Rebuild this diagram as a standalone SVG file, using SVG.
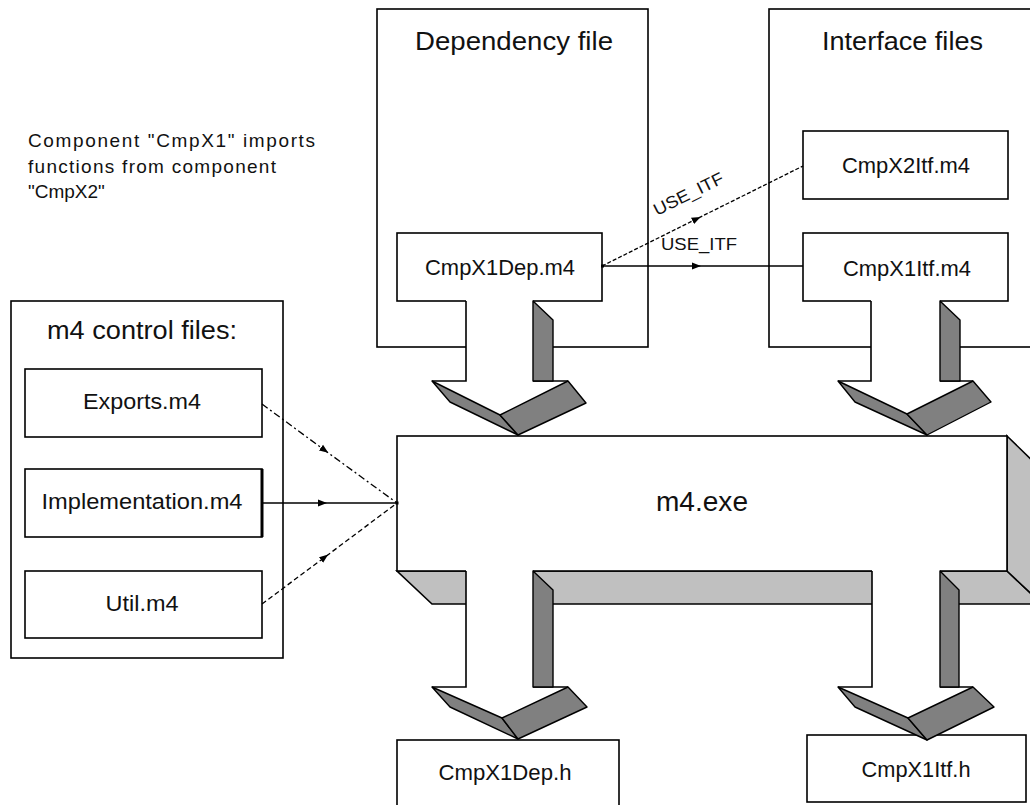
<svg xmlns="http://www.w3.org/2000/svg" width="1030" height="805" viewBox="0 0 1030 805">
  <style>
    text { font-family: "Liberation Sans", Arial, sans-serif; fill: #111; }
    .box { fill: #fff; stroke: #000; stroke-width: 1.6; }
    .title { font-size: 26px; }
    .label { font-size: 22px; text-anchor: middle; }
    .note { font-size: 19px; }
    .edge-label { font-size: 17px; }
    .dark { fill: #808080; stroke: #000; stroke-width: 1.4; stroke-linejoin: round; }
    .light { fill: #c0c0c0; stroke: #000; stroke-width: 1.6; }
    .white { fill: #fff; stroke: none; }
    .outline { fill: none; stroke: #000; stroke-width: 1.6; }
    .wire { fill: none; stroke: #000; stroke-width: 1.3; marker-mid: url(#tri); }
  </style>
  <defs>
    <marker id="tri" markerWidth="10" markerHeight="8" refX="5" refY="4" orient="auto" markerUnits="userSpaceOnUse">
      <path d="M0,0.5 L9,4 L0,7.5 z" fill="#000"/>
    </marker>
  </defs>

  <rect width="1030" height="805" fill="#fff"/>

  <!-- explanatory note -->
  <g id="note">
    <text class="note" x="28" y="147" textLength="287" lengthAdjust="spacing">Component "CmpX1" imports</text>
    <text class="note" x="28" y="173" textLength="248" lengthAdjust="spacing">functions from component</text>
    <text class="note" x="28" y="198">"CmpX2"</text>
  </g>

  <!-- m4 control files -->
  <g id="ctrl-files">
    <rect class="box" x="11" y="301" width="272" height="357"/>
    <text class="title" x="47" y="339" textLength="190" lengthAdjust="spacingAndGlyphs">m4 control files:</text>
  </g>
  <g id="exports">
    <rect class="box" x="25" y="369" width="237" height="68"/>
    <text class="label" x="142" y="409" textLength="118" lengthAdjust="spacingAndGlyphs">Exports.m4</text>
  </g>
  <g id="impl">
    <rect class="box" x="25" y="469" width="237" height="68"/>
    <line x1="262" y1="469" x2="262" y2="537" stroke="#000" stroke-width="3"/>
    <text class="label" x="142" y="509" textLength="201" lengthAdjust="spacingAndGlyphs">Implementation.m4</text>
  </g>
  <g id="util">
    <rect class="box" x="25" y="571" width="237" height="67"/>
    <text class="label" x="142" y="611" textLength="73" lengthAdjust="spacingAndGlyphs">Util.m4</text>
  </g>

  <!-- containers -->
  <g id="dep-file">
    <rect class="box" x="377" y="9" width="271" height="338"/>
    <text class="title" x="415" y="50" textLength="198" lengthAdjust="spacingAndGlyphs">Dependency file</text>
  </g>
  <g id="itf-files">
    <rect class="box" x="769" y="9" width="280" height="338"/>
    <text class="title" x="822" y="50" textLength="161" lengthAdjust="spacingAndGlyphs">Interface files</text>
  </g>

  <g id="cmpx1dep-m4">
    <rect class="box" x="397" y="233" width="205" height="68"/>
    <text class="label" x="500" y="275" textLength="150" lengthAdjust="spacingAndGlyphs">CmpX1Dep.m4</text>
  </g>
  <g id="cmpx2itf-m4">
    <rect class="box" x="803" y="131" width="205" height="68"/>
    <text class="label" x="906" y="173" textLength="128" lengthAdjust="spacingAndGlyphs">CmpX2Itf.m4</text>
  </g>
  <g id="cmpx1itf-m4">
    <rect class="box" x="803" y="233" width="205" height="68"/>
    <text class="label" x="907" y="276" textLength="128" lengthAdjust="spacingAndGlyphs">CmpX1Itf.m4</text>
  </g>

  <!-- m4.exe block with extruded underside and side -->
  <g id="m4exe">
    <polygon class="light" points="397,571 1007,571 1042,604 432,604"/>
    <polygon class="light" points="1007,436 1042,470 1042,604 1007,571"/>
    <rect class="box" x="397" y="436" width="610" height="135"/>
    <text x="656" y="511" font-size="27" textLength="92" lengthAdjust="spacingAndGlyphs">m4.exe</text>
  </g>

  <g id="cmpx1dep-h">
    <rect class="box" x="397" y="740" width="222" height="75"/>
    <text class="label" x="505" y="780" textLength="133" lengthAdjust="spacingAndGlyphs">CmpX1Dep.h</text>
  </g>
  <g id="cmpx1itf-h">
    <rect class="box" x="807" y="735" width="219" height="67"/>
    <text class="label" x="916" y="777" textLength="109" lengthAdjust="spacingAndGlyphs">CmpX1Itf.h</text>
  </g>

  <g id="connectors">
    <!-- block arrow: CmpX1Dep.m4 into m4.exe -->
    <g>
      <polygon class="white" points="466,299.5 533,299.5 533,381 568,381 500,415 432,381 466,381"/>
      <path class="outline" d="M466,301 V381 H432 M533,381 H568"/>
      <polygon class="dark" points="533,301 553,320 553,381 533,381"/>
      <polygon class="dark" points="432,381 500,415 518,435 450,402"/>
      <polygon class="dark" points="500,415 568,381 586,403 518,435"/>
    </g>
    <!-- block arrow: CmpX1Itf.m4 into m4.exe -->
    <g>
      <polygon class="white" points="871,299.5 940,299.5 940,381 973,381 907,414 838,381 871,381"/>
      <path class="outline" d="M871,301 V381 H838 M940,381 H973"/>
      <polygon class="dark" points="940,301 960,320 960,381 940,381"/>
      <polygon class="dark" points="838,381 907,414 927,435 855,402"/>
      <polygon class="dark" points="907,414 973,381 991,402 927,435"/>
    </g>
    <!-- block arrow: m4.exe to CmpX1Dep.h -->
    <g>
      <polygon class="white" points="466,569.5 533,569.5 533,687 568,687 502,718 432,687 466,687"/>
      <path class="outline" d="M466,571 V687 H432 M533,687 H568"/>
      <polygon class="dark" points="533,571 553,590 553,687 533,687"/>
      <polygon class="dark" points="432,687 502,718 518,739 450,707"/>
      <polygon class="dark" points="502,718 568,687 587,707 518,739"/>
    </g>
    <!-- block arrow: m4.exe to CmpX1Itf.h -->
    <g>
      <polygon class="white" points="872,569.5 940,569.5 940,687 973,687 908,718 838,687 872,687"/>
      <path class="outline" d="M872,571 V687 H838 M940,687 H973"/>
      <polygon class="dark" points="940,571 959,590 959,687 940,687"/>
      <polygon class="dark" points="838,687 908,718 927,740 855,707"/>
      <polygon class="dark" points="908,718 973,687 994,707 927,740"/>
    </g>

    <!-- control files feeding m4.exe -->
    <polyline class="wire" points="262,404 325,450.5 397,503" stroke-dasharray="7 3 2 3"/>
    <polyline class="wire" points="262,503 323,503 397,503"/>
    <polyline class="wire" points="262,604 325,557 397,503" stroke-dasharray="5 3"/>
    <rect x="395.5" y="501.5" width="3" height="3" fill="#000"/>

    <!-- USE_ITF references -->
    <polyline class="wire" points="602,266 697,218.7 803,166" stroke-dasharray="4 2"/>
    <polyline class="wire" points="602,266 697,266 803,266"/>
    <rect x="601" y="264.5" width="3" height="3" fill="#000"/>
    <text class="edge-label" x="657" y="216" transform="rotate(-26.4 657 216)" textLength="76" lengthAdjust="spacingAndGlyphs">USE_ITF</text>
    <text class="edge-label" x="661" y="250" textLength="76" lengthAdjust="spacingAndGlyphs">USE_ITF</text>
  </g>
</svg>
